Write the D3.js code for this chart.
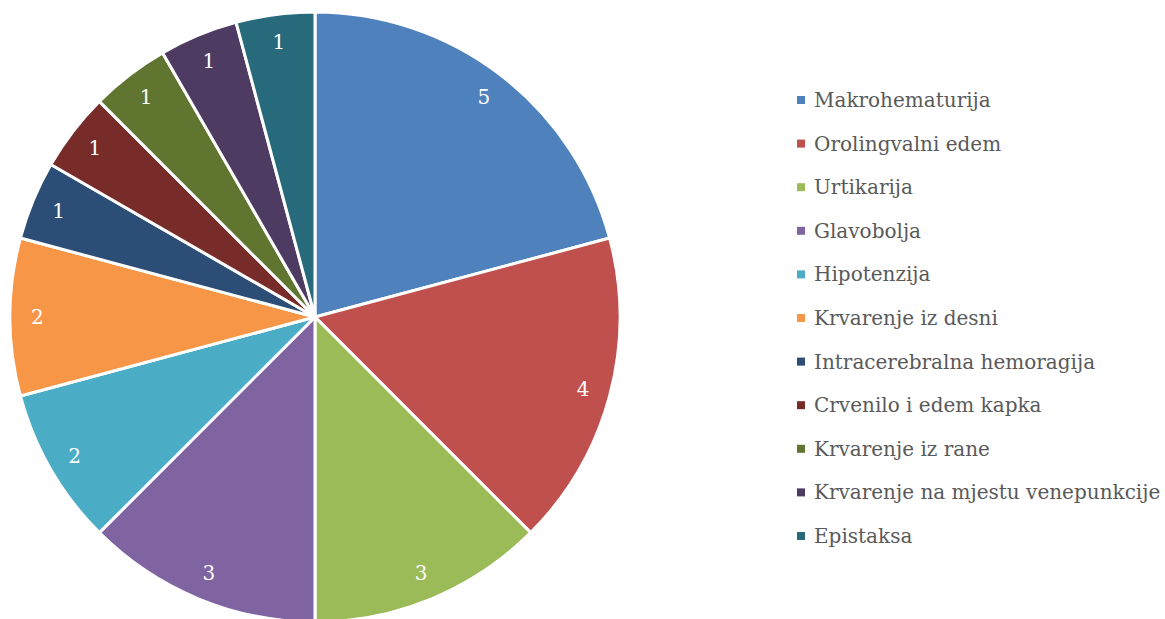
<!DOCTYPE html>
<html lang="hr">
<head>
<meta charset="UTF-8">
<title>Pie chart</title>
<style>
  body { margin: 0; background: #fff; }
  .legend-text { font-family: "DejaVu Serif", serif; font-size: 20px; fill: #595959; }
  .slice-label { font-family: "DejaVu Serif", serif; font-size: 20px; fill: #fff; }
</style>
</head>
<body>
<svg id="chart" width="1165" height="619"></svg>
<script src="https://cdn.jsdelivr.net/npm/d3@7"></script>
<script>
// data
const categories = ["Makrohematurija", "Orolingvalni edem", "Urtikarija", "Glavobolja", "Hipotenzija",
  "Krvarenje iz desni", "Intracerebralna hemoragija", "Crvenilo i edem kapka", "Krvarenje iz rane",
  "Krvarenje na mjestu venepunkcije", "Epistaksa"];
const values = [5, 4, 3, 3, 2, 2, 1, 1, 1, 1, 1];
const colors = ["#4F81BD", "#C0504D", "#9BBB59", "#8064A2", "#4BACC6", "#F79646",
  "#2C4D75", "#772C2A", "#5F7530", "#4D3B62", "#276A7C"];

const svg = d3.select("#chart");
const cx = 315, cy = 317, radius = 305;

const pie = d3.pie().sort(null).value(d => d.v);
const arcs = pie(categories.map((c, i) => ({ c, v: values[i] })));

const arc = d3.arc().innerRadius(0).outerRadius(radius);
const labelArc = d3.arc().innerRadius(radius * 0.91).outerRadius(radius * 0.91);

const g = svg.append("g").attr("transform", `translate(${cx},${cy})`);

g.selectAll("path")
  .data(arcs)
  .enter().append("path")
  .attr("d", arc)
  .attr("fill", (d, i) => colors[i])
  .attr("stroke", "#fff")
  .attr("stroke-width", 3)
  .attr("stroke-linejoin", "round");

g.selectAll(".slice-label")
  .data(arcs)
  .enter().append("text")
  .attr("class", "slice-label")
  .attr("transform", d => `translate(${labelArc.centroid(d)})`)
  .attr("text-anchor", "middle")
  .attr("dy", "0.35em")
  .text(d => d.data.v);

// legend
const ly = d3.scalePoint().domain(categories).range([100, 536]);
const legend = svg.append("g").selectAll("g")
  .data(categories)
  .enter().append("g")
  .attr("transform", d => `translate(797,${ly(d)})`);

legend.append("rect")
  .attr("x", 0).attr("y", -4)
  .attr("width", 8).attr("height", 8)
  .attr("fill", (d, i) => colors[i]);

legend.append("text")
  .attr("class", "legend-text")
  .attr("x", 17)
  .attr("dy", "0.35em")
  .text(d => d);
</script>
</body>
</html>
